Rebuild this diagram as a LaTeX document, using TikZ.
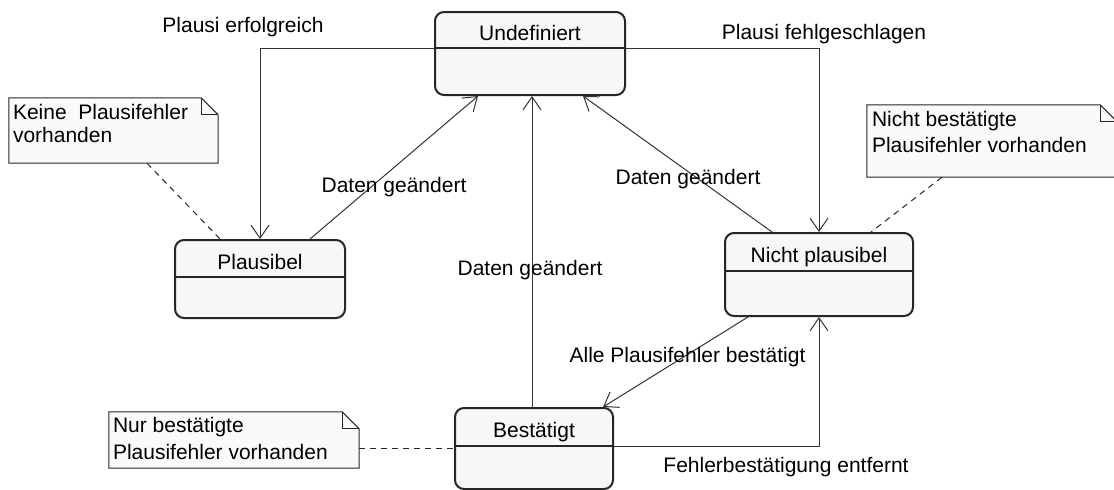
\documentclass[tikz,border=0pt]{standalone}
\usepackage{fontspec}
\setmainfont{Liberation Sans}
\usetikzlibrary{arrows.meta,calc}
\tikzset{
  every node/.style={font=\fontsize{21}{24}\selectfont},
  state/.style={draw=black!85, line width=2pt, rounded corners=9pt, fill=black!3, inner sep=0pt},
  divider/.style={draw=black!85, line width=1.3pt},
  conn/.style={draw=black!80, line width=1pt, -{Straight Barb[length=13pt,width=18pt,line width=1pt]}},
  notebox/.style={inner sep=0pt},
  notedraw/.style={draw=black!85, line width=1pt, fill=black!2},
  notetext/.style={anchor=base west, align=left, inner sep=0pt},
  lbl/.style={anchor=base, inner sep=0pt},
  dashconn/.style={draw=black!85, line width=1pt, dashed, dash pattern=on 6pt off 5pt}
}
\newcommand\drawnote[1]{%
  \draw[notedraw] (#1.north west) -- ($(#1.north east)+(-17,0)$) -- ($(#1.north east)+(0,17)$) -- (#1.south east) -- (#1.south west) -- cycle;
  \draw[notedraw, fill=none] ($(#1.north east)+(-17,0)$) |- ($(#1.north east)+(0,17)$);}
\begin{document}
\begin{tikzpicture}[x=1pt,y=-1pt]
\useasboundingbox[fill=white] (0,0) rectangle (1114,490);

% states
\node[state, minimum width=190pt, minimum height=83pt] (U) at (530,53.5) {};
\node[state, minimum width=170pt, minimum height=78pt] (P) at (260,279) {};
\node[state, minimum width=188pt, minimum height=83pt] (N) at (819,274.5) {};
\node[state, minimum width=158pt, minimum height=81pt] (B) at (534,448.5) {};
\draw[divider] ($(U.north west)+(0,37)$) -- ($(U.north east)+(0,37)$);
\draw[divider] ($(P.north west)+(0,38)$) -- ($(P.north east)+(0,38)$);
\draw[divider] ($(N.north west)+(0,39)$) -- ($(N.north east)+(0,39)$);
\draw[divider] ($(B.north west)+(0,39)$) -- ($(B.north east)+(0,39)$);
\node[lbl] (Ut) at (530,40) {Undefiniert};
\node[lbl] (Pt) at (260,269) {Plausibel};
\node[lbl] (Nt) at (819,262) {Nicht plausibel};
\node[lbl] (Bt) at (534,437) {Bestätigt};

% notes
\node[notebox, minimum width=209pt, minimum height=65pt] (K) at (113.5,130.5) {};
\drawnote{K}
\node[notetext] (Kt1) at ($(K.north west)+(4,22)$) {Keine\ \ Plausifehler};
\node[notetext] (Kt2) at ($(K.north west)+(4,45)$) {vorhanden};
\node[notebox, minimum width=250pt, minimum height=72pt] (NB) at (992,141) {};
\drawnote{NB}
\node[notetext] (NBt1) at ($(NB.north west)+(5,22)$) {Nicht bestätigte};
\node[notetext] (NBt2) at ($(NB.north west)+(5,48)$) {Plausifehler vorhanden};
\node[notebox, minimum width=250pt, minimum height=56pt] (NR) at (234,440) {};
\drawnote{NR}
\node[notetext] (NRt1) at ($(NR.north west)+(4,21)$) {Nur bestätigte};
\node[notetext] (NRt2) at ($(NR.north west)+(4,48)$) {Plausifehler vorhanden};

% dashed note links
\draw[dashconn] ($(K.south)+(33.5,0)$) -- ($(P.north west)+(46,0)$);
\draw[dashconn] ($(NB.south)+(-50,0)$) -- ($(N.north east)+(-43,0)$);
\draw[dashconn] (NR.east |- B.west) -- (B.west);

% transitions
\draw[conn] ($(U.north west)+(0,37)$) -| (P.north);
\draw[conn] ($(U.north east)+(0,37)$) -| (N.north);
\draw[conn] ($(P.north)+(50,0)$) -- ($(U.south)+(-52,0)$);
\draw[conn] ($(B.north)+(-2,0)$) -- ($(U.south)+(2,0)$);
\draw[conn] ($(N.north)+(-47,0)$) -- ($(U.south)+(53,0)$);
\draw[conn] ($(N.south)+(-71,0)$) -- ($(B.north east)+(-11,0)$);
\draw[conn] ($(B.north east)+(0,39)$) -| (N.south);

% labels
\node[lbl] (l1) at (243,32) {Plausi erfolgreich};
\node[lbl] (l2) at (824,39) {Plausi fehlgeschlagen};
\node[lbl] (l3) at (394,192) {Daten geändert};
\node[lbl] (l4) at (530,275) {Daten geändert};
\node[lbl] (l5) at (688,184) {Daten geändert};
\node[lbl] (l6) at (687.5,362) {Alle Plausifehler bestätigt};
\node[lbl] (l7) at (786,472) {Fehlerbestätigung entfernt};
\end{tikzpicture}
\end{document}
